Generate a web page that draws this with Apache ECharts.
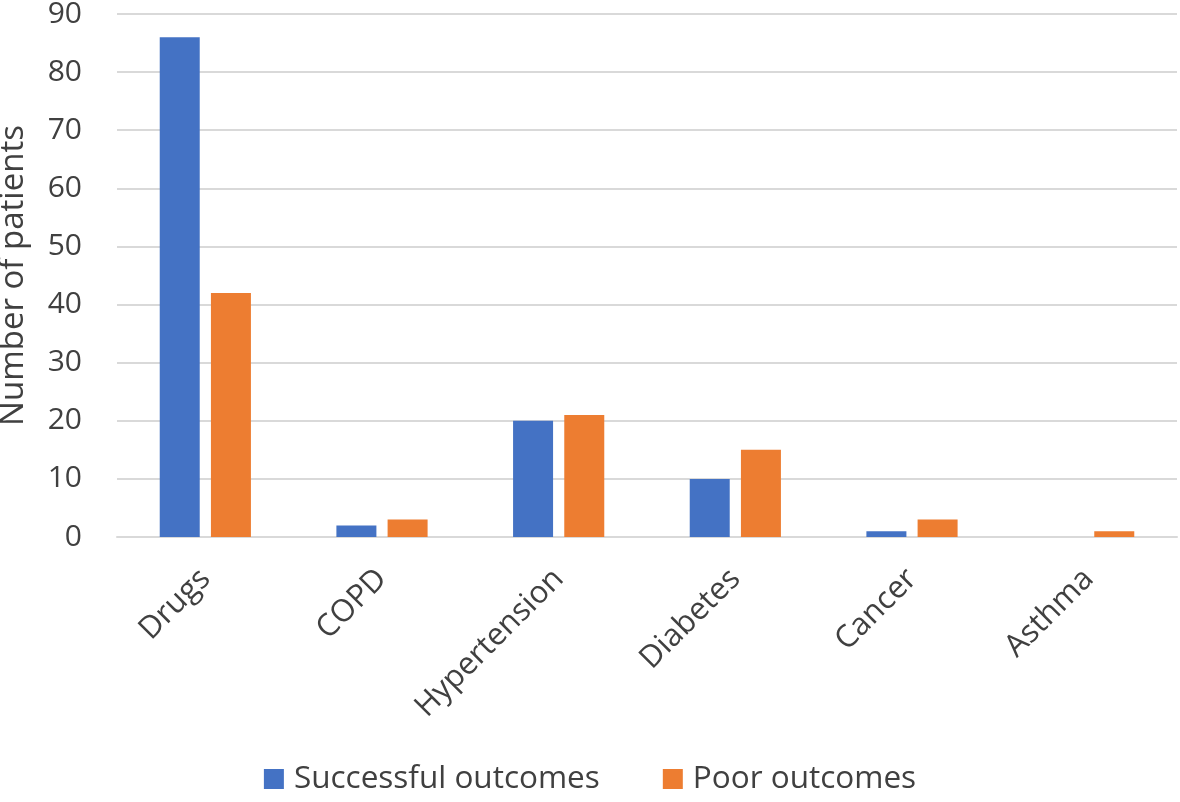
<!DOCTYPE html>
<html><head><meta charset="utf-8">
<script src="https://cdn.jsdelivr.net/npm/echarts@6/dist/echarts.min.js"></script>
<style>html,body{margin:0;padding:0;background:#fff}#c{width:1180px;height:802px}</style>
</head><body><div id="c"></div>
<script>
var categories = ['Drugs','COPD','Hypertension','Diabetes','Cancer','Asthma'];
var successful = [86, 2, 20, 10, 1, 0];
var poor = [42, 3, 21, 15, 3, 1];
var yTicks = [0,10,20,30,40,50,60,70,80,90];

var chart = echarts.init(document.getElementById('c'));
var font = '"Open Sans", "Noto Sans", sans-serif';
chart.setOption({
  animation: false,
  textStyle: {fontFamily: font},
  grid: {left: 117, right: 3, top: 14, bottom: 265, outerBoundsMode: 'none', containLabel: false},
  legend: {
    bottom: 2, left: 'center', itemWidth: 20, itemHeight: 20, itemGap: 63,
    icon: 'rect',
    textStyle: {fontSize: 31.5, color: '#404040', fontFamily: font, padding: [0,0,0,5]},
    data: ['Successful outcomes','Poor outcomes']
  },
  xAxis: {
    type: 'category', data: categories,
    axisLine: {lineStyle: {color: '#d9d9d9', width: 2}},
    axisTick: {show: false},
    axisLabel: {rotate: 45, fontSize: 31, color: '#404040', margin: 37, fontFamily: font}
  },
  yAxis: {
    type: 'value', min: 0, max: 90, interval: 10,
    name: 'Number of patients', nameLocation: 'middle', nameGap: 87,
    nameTextStyle: {fontSize: 33, color: '#404040', fontFamily: font},
    axisLine: {show: false}, axisTick: {show: false},
    axisLabel: {fontSize: 30, color: '#404040', margin: 35, fontFamily: font,
      formatter: function(v){ return yTicks.indexOf(v) >= 0 ? String(v) : ''; }},
    splitLine: {lineStyle: {color: '#d9d9d9', width: 2}}
  },
  series: [
    {name: 'Successful outcomes', type: 'bar', data: successful, barWidth: 40, barGap: '28%',
     itemStyle: {color: '#4472C4'}},
    {name: 'Poor outcomes', type: 'bar', data: poor, barWidth: 40,
     itemStyle: {color: '#ED7D31'}}
  ]
});
</script></body></html>
